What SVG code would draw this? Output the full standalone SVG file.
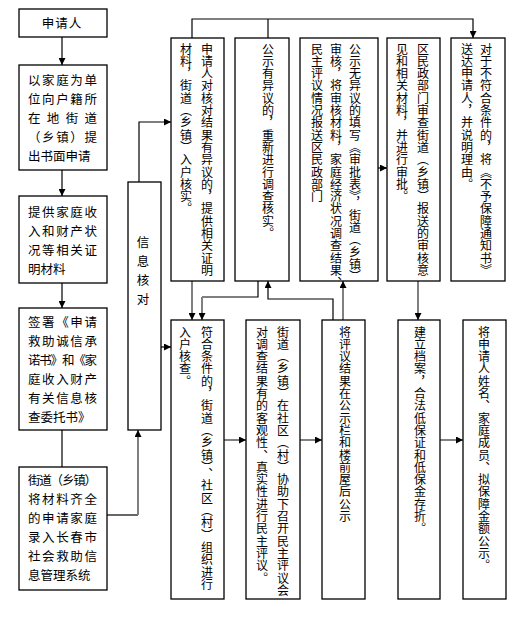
<svg xmlns="http://www.w3.org/2000/svg" width="524" height="617" viewBox="0 0 524 617">
<style>
rect.b{fill:#fff;stroke:#000;stroke-width:1.3}
text{font-family:"Noto Sans CJK SC","Liberation Sans",sans-serif;fill:#000}
.h{font-size:12.5px}
.v{font-size:12px;writing-mode:vertical-rl;letter-spacing:0.3px}
.k{fill:none;stroke:#000;stroke-width:1.2}
.g{fill:none;stroke:#808080;stroke-width:2}
</style>
<defs>
<marker id="ah" viewBox="0 0 8 8" refX="8" refY="4" markerWidth="7" markerHeight="7" orient="auto" markerUnits="userSpaceOnUse"><path d="M0,0 L8,4 L0,8 z" fill="#000"/></marker>
</defs>
<rect width="524" height="617" fill="#fff"/>
<g id="connectors">
<path class="k" d="M62 37 V65" marker-end="url(#ah)"/>
<path class="k" d="M62 170 V196" marker-end="url(#ah)"/>
<path class="k" d="M62 283 V308" marker-end="url(#ah)"/>
<path class="k" d="M62 430 V467"/>
<path class="k" d="M107 515 H138"/>
<path class="g" d="M138 515 V430" marker-end="url(#ah)"/>
<path class="k" d="M139 182 V122 H171" marker-end="url(#ah)"/>
<path class="k" d="M161 347 H171" marker-end="url(#ah)"/>
<path class="k" d="M192 38 V19 H473 V38" marker-end="url(#ah)"/>
<path class="k" d="M268 38 V19"/>
<path class="k" d="M378 168 H387" marker-end="url(#ah)"/>
<path class="g" d="M192 281 V320" marker-end="url(#ah)"/>
<path class="k" d="M258 281 V297 H202"/>
<path class="g" d="M202 297 V320" marker-end="url(#ah)"/>
<path class="k" d="M333 320 V299 H268 V281" marker-end="url(#ah)"/>
<path class="g" d="M343 320 V281" marker-end="url(#ah)"/>
<path class="g" d="M418 281 V320" marker-end="url(#ah)"/>
<path class="g" d="M224 440 H246" marker-end="url(#ah)"/>
<path class="g" d="M300 440 H322" marker-end="url(#ah)"/>
<path class="g" d="M440 440 H463" marker-end="url(#ah)"/>
</g>
<g id="n-applicant">
<rect class="b" x="19" y="9" width="88" height="28"/>
<text class="h" x="62" y="27.5" text-anchor="middle" letter-spacing="1">申请人</text>
</g>
<g id="n-apply">
<rect class="b" x="19" y="65" width="88" height="105"/>
<text class="h" x="28" y="85" textLength="69" lengthAdjust="spacing">以家庭为单</text>
<text class="h" x="28" y="104" textLength="69" lengthAdjust="spacing">位向户籍所</text>
<text class="h" x="28" y="123" textLength="69" lengthAdjust="spacing">在地街道</text>
<text class="h" x="28" y="142" textLength="69" lengthAdjust="spacing">（乡镇）提</text>
<text class="h" x="28" y="161">出书面申请</text>
</g>
<g id="n-materials">
<rect class="b" x="19" y="196" width="88" height="87"/>
<text class="h" x="28" y="217" textLength="69" lengthAdjust="spacing">提供家庭收</text>
<text class="h" x="28" y="236" textLength="69" lengthAdjust="spacing">入和财产状</text>
<text class="h" x="28" y="255" textLength="69" lengthAdjust="spacing">况等相关证</text>
<text class="h" x="28" y="274">明材料</text>
</g>
<g id="n-sign">
<rect class="b" x="19" y="308" width="88" height="122"/>
<text class="h" x="28" y="327" textLength="69" lengthAdjust="spacing">签署《申请</text>
<text class="h" x="28" y="346" textLength="69" lengthAdjust="spacing">救助诚信承</text>
<text class="h" x="28" y="365" textLength="69" lengthAdjust="spacing">诺书》和《家</text>
<text class="h" x="28" y="384" textLength="69" lengthAdjust="spacing">庭收入财产</text>
<text class="h" x="28" y="403" textLength="69" lengthAdjust="spacing">有关信息核</text>
<text class="h" x="28" y="422">查委托书》</text>
</g>
<g id="n-enter">
<rect class="b" x="19" y="467" width="88" height="123"/>
<text class="h" x="28" y="485" textLength="69" lengthAdjust="spacing">街道（乡镇）</text>
<text class="h" x="28" y="504" textLength="69" lengthAdjust="spacing">将材料齐全</text>
<text class="h" x="28" y="523" textLength="69" lengthAdjust="spacing">的申请家庭</text>
<text class="h" x="28" y="542" textLength="69" lengthAdjust="spacing">录入长春市</text>
<text class="h" x="28" y="561" textLength="69" lengthAdjust="spacing">社会救助信</text>
<text class="h" x="28" y="580">息管理系统</text>
</g>
<g id="n-verify">
<rect class="b" x="128" y="182" width="33" height="248"/>
<text class="h" x="143" y="247" text-anchor="middle">信</text>
<text class="h" x="143" y="266" text-anchor="middle">息</text>
<text class="h" x="143" y="285" text-anchor="middle">核</text>
<text class="h" x="143" y="304" text-anchor="middle">对</text>
</g>
<g id="n-t1">
<rect class="b" x="171" y="38" width="53" height="243"/>
<text class="v" x="207" y="43">申请人对核对结果有异议的，提供相关证明</text>
<text class="v" x="186" y="43">材料，街道（乡镇）入户核实。</text>
</g>
<g id="n-t2">
<rect class="b" x="235" y="38" width="54" height="243"/>
<text class="v" x="268" y="43">公示有异议的，重新进行调查核实。</text>
</g>
<g id="n-t3">
<rect class="b" x="300" y="38" width="78" height="243"/>
<text class="v" x="355" y="43">公示无异议的填写《审批表》，街道（乡镇）</text>
<text class="v" x="336" y="43">审核，将审核材料，家庭经济状况调查结果、</text>
<text class="v" x="317" y="43">民主评议情况报送区民政部门</text>
</g>
<g id="n-t4">
<rect class="b" x="387" y="38" width="53" height="243"/>
<text class="v" x="423" y="43">区民政部门审查街道（乡镇）报送的审核意</text>
<text class="v" x="402" y="43">见和相关材料，并进行审批。</text>
</g>
<g id="n-t5">
<rect class="b" x="451" y="38" width="54" height="243"/>
<text class="v" x="486" y="43">对于不符合条件的，将《不予保障通知书》</text>
<text class="v" x="467" y="43">送达申请人，并说明理由。</text>
</g>
<g id="n-b1">
<rect class="b" x="171" y="320" width="53" height="279"/>
<text class="v" x="207" y="326">符合条件的，街道（乡镇）、社区（村）组织进行</text>
<text class="v" x="185" y="326">入户核查。</text>
</g>
<g id="n-b2">
<rect class="b" x="246" y="320" width="54" height="279"/>
<text class="v" x="283" y="326">街道（乡镇）在社区（村）协助下召开民主评议会</text>
<text class="v" x="262" y="326">对调查结果有的客观性、真实性进行民主评议。</text>
</g>
<g id="n-b3">
<rect class="b" x="322" y="320" width="43" height="279"/>
<text class="v" x="345" y="326">将评议结果在公示栏和楼前屋后公示</text>
</g>
<g id="n-b4">
<rect class="b" x="398" y="320" width="42" height="279"/>
<text class="v" x="420" y="326">建立档案，合法低保证和低保金存折。</text>
</g>
<g id="n-b5">
<rect class="b" x="463" y="320" width="43" height="279"/>
<text class="v" x="484" y="326">将申请人姓名、家庭成员、拟保障金额公示。</text>
</g>
</svg>
